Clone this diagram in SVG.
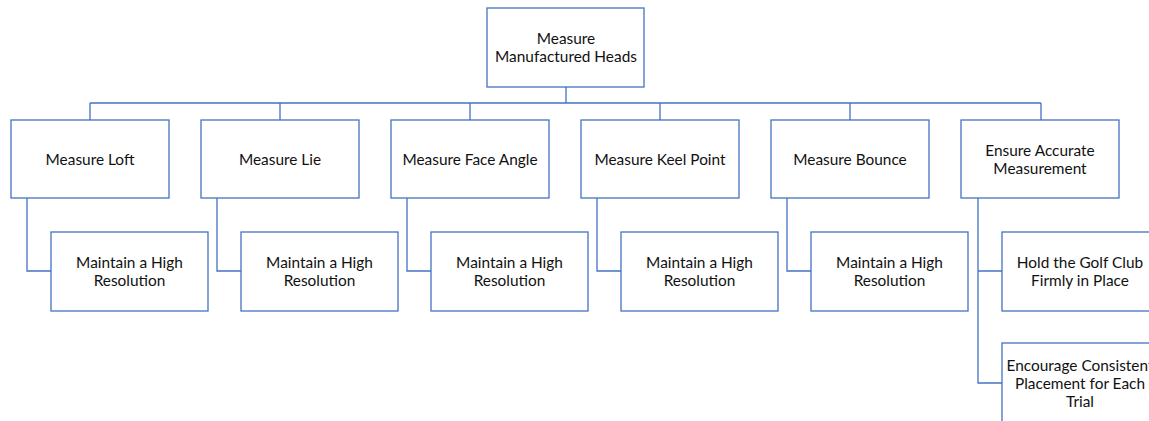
<svg xmlns="http://www.w3.org/2000/svg" width="1149" height="421" viewBox="0 0 1149 421">
<style>
.box{fill:#fff;stroke:#4472c4;stroke-width:1.3}
.ln{fill:none;stroke:#4472c4;stroke-width:1.3}
text{font-family:Lato,"Liberation Sans",sans-serif;font-size:15.4px;fill:#111;text-anchor:middle}
</style>
<rect width="1149" height="421" fill="#fff"/>
<g id="connectors">
<path class="ln" d="M566,87V103M90,103H1041M90,103V120M280,103V120M470,103V120M660,103V120M850,103V120M1041,103V120"/>
<path class="ln" d="M27,198V271H51M217,198V271H241M407,198V271H431M597,198V271H621M787,198V271H811M978,198V383H1002M978,271H1002"/>
</g>
<g id="n0"><rect class="box" x="487" y="8" width="157" height="79"/><text x="566" y="44">Measure</text><text x="566" y="62">Manufactured Heads</text></g>
<g id="n1"><rect class="box" x="11" y="120" width="158" height="78"/><text x="90" y="165">Measure Loft</text></g>
<g id="n2"><rect class="box" x="201" y="120" width="158" height="78"/><text x="280" y="165">Measure Lie</text></g>
<g id="n3"><rect class="box" x="391" y="120" width="158" height="78"/><text x="470" y="165">Measure Face Angle</text></g>
<g id="n4"><rect class="box" x="581" y="120" width="158" height="78"/><text x="660" y="165">Measure Keel Point</text></g>
<g id="n5"><rect class="box" x="771" y="120" width="158" height="78"/><text x="850" y="165">Measure Bounce</text></g>
<g id="n6"><rect class="box" x="961" y="120" width="158" height="78"/><text x="1040" y="156">Ensure Accurate</text><text x="1040" y="174">Measurement</text></g>
<g id="n7"><rect class="box" x="51" y="232" width="157" height="79"/><text x="129.5" y="268">Maintain a High</text><text x="129.5" y="286">Resolution</text></g>
<g id="n8"><rect class="box" x="241" y="232" width="157" height="79"/><text x="319.5" y="268">Maintain a High</text><text x="319.5" y="286">Resolution</text></g>
<g id="n9"><rect class="box" x="431" y="232" width="157" height="79"/><text x="509.5" y="268">Maintain a High</text><text x="509.5" y="286">Resolution</text></g>
<g id="n10"><rect class="box" x="621" y="232" width="157" height="79"/><text x="699.5" y="268">Maintain a High</text><text x="699.5" y="286">Resolution</text></g>
<g id="n11"><rect class="box" x="811" y="232" width="157" height="79"/><text x="889.5" y="268">Maintain a High</text><text x="889.5" y="286">Resolution</text></g>
<g id="n12"><rect class="box" x="1002" y="232" width="157" height="79"/><text x="1080" y="268">Hold the Golf Club</text><text x="1080" y="286">Firmly in Place</text></g>
<g id="n13"><rect class="box" x="1002" y="343" width="157" height="100"/><text x="1080" y="371">Encourage Consistent</text><text x="1080" y="389">Placement for Each</text><text x="1080" y="407">Trial</text></g>
</svg>
